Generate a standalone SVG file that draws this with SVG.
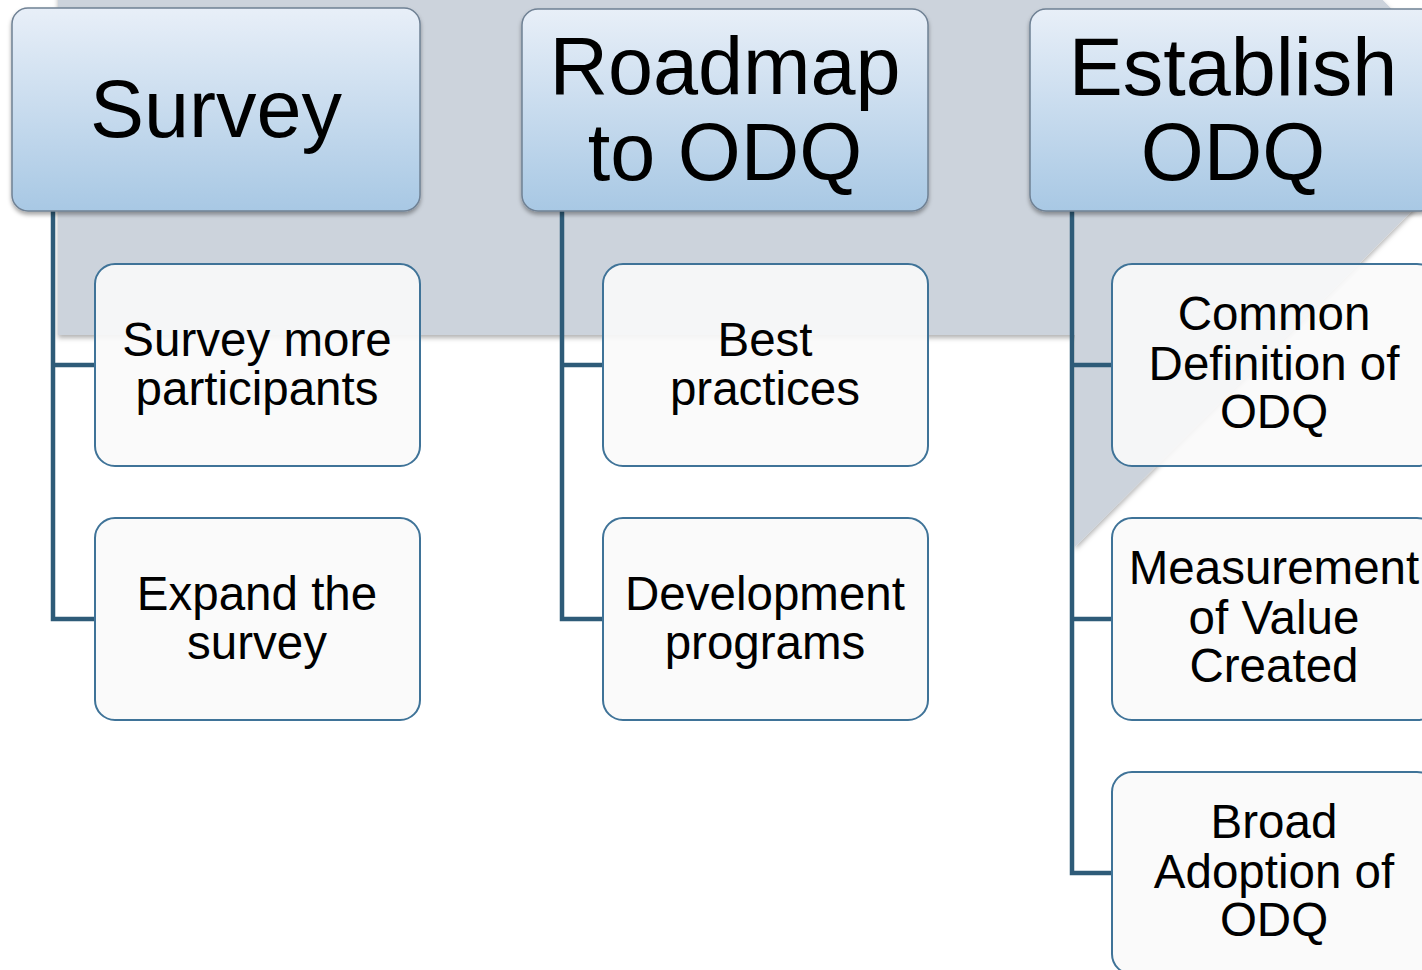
<svg xmlns="http://www.w3.org/2000/svg" width="1422" height="970" viewBox="0 0 1422 970">
<style>
.hdr{fill:url(#hg);stroke:#6f8194;stroke-width:1.5}
.kid{fill:#fafafa;fill-opacity:0.9;stroke:#3f7398;stroke-width:2}
.ht{font-family:"Liberation Sans",Arial,sans-serif;font-size:81px;fill:#000;text-anchor:middle}
.ct{font-family:"Liberation Sans",Arial,sans-serif;font-size:47.5px;fill:#000;text-anchor:middle}
.con{fill:none;stroke:#2e5b78;stroke-width:4.5;stroke-linejoin:miter}
</style>
<defs>
<linearGradient id="hg" x1="0" y1="0" x2="0" y2="1">
<stop offset="0" stop-color="#e8eff8"/>
<stop offset="1" stop-color="#a8c8e4"/>
</linearGradient>
<filter id="sh" x="-10%" y="-10%" width="120%" height="130%">
<feDropShadow dx="0" dy="3" stdDeviation="2" flood-color="#000" flood-opacity="0.35"/>
</filter>
<filter id="ash" x="-10%" y="-10%" width="120%" height="130%">
<feDropShadow dx="0" dy="3" stdDeviation="2.5" flood-color="#000" flood-opacity="0.3"/>
</filter>
</defs>
<rect width="1422" height="970" fill="#ffffff"/>
<g id="background-arrow">
<polygon points="58,-95 1075,-95 1075,-307 1503,120 1075,547 1075,335 58,335" fill="#ccd3dc" filter="url(#ash)"/>
</g>
<g id="connectors">
<path class="con" d="M53,211 V619 H95 M53,365 H95"/>
<path class="con" d="M562,211 V619 H603 M562,365 H603"/>
<path class="con" d="M1072,211 V873 H1112 M1072,365 H1112 M1072,619 H1112"/>
</g>
<g id="survey">
<rect class="hdr" x="12" y="8" width="408" height="203" rx="16" filter="url(#sh)"/>
<text class="ht" x="216" y="137">Survey</text>
</g>
<g id="survey-more-participants">
<rect class="kid" x="95" y="264" width="325" height="202" rx="20"/>
<text class="ct" x="257" y="356">Survey more</text>
<text class="ct" x="257" y="405">participants</text>
</g>
<g id="expand-the-survey">
<rect class="kid" x="95" y="518" width="325" height="202" rx="20"/>
<text class="ct" x="257" y="610">Expand the</text>
<text class="ct" x="257" y="659">survey</text>
</g>
<g id="roadmap">
<rect class="hdr" x="522" y="9" width="406" height="202" rx="16" filter="url(#sh)"/>
<text class="ht" x="725" y="94">Roadmap</text>
<text class="ht" x="725" y="180">to ODQ</text>
</g>
<g id="best-practices">
<rect class="kid" x="603" y="264" width="325" height="202" rx="20"/>
<text class="ct" x="765" y="356">Best</text>
<text class="ct" x="765" y="405">practices</text>
</g>
<g id="development-programs">
<rect class="kid" x="603" y="518" width="325" height="202" rx="20"/>
<text class="ct" x="765" y="610">Development</text>
<text class="ct" x="765" y="659">programs</text>
</g>
<g id="establish">
<rect class="hdr" x="1030" y="9" width="407" height="202" rx="16" filter="url(#sh)"/>
<text class="ht" x="1233" y="95">Establish</text>
<text class="ht" x="1233" y="180">ODQ</text>
</g>
<g id="common-definition">
<rect class="kid" x="1112" y="264" width="325" height="202" rx="20"/>
<text class="ct" x="1274" y="330">Common</text>
<text class="ct" x="1274" y="380">Definition of</text>
<text class="ct" x="1274" y="428">ODQ</text>
</g>
<g id="measurement">
<rect class="kid" x="1112" y="518" width="325" height="202" rx="20"/>
<text class="ct" x="1274" y="584">Measurement</text>
<text class="ct" x="1274" y="634">of Value</text>
<text class="ct" x="1274" y="682">Created</text>
</g>
<g id="broad-adoption">
<rect class="kid" x="1112" y="772" width="325" height="202" rx="20"/>
<text class="ct" x="1274" y="838">Broad</text>
<text class="ct" x="1274" y="888">Adoption of</text>
<text class="ct" x="1274" y="936">ODQ</text>
</g>
</svg>
